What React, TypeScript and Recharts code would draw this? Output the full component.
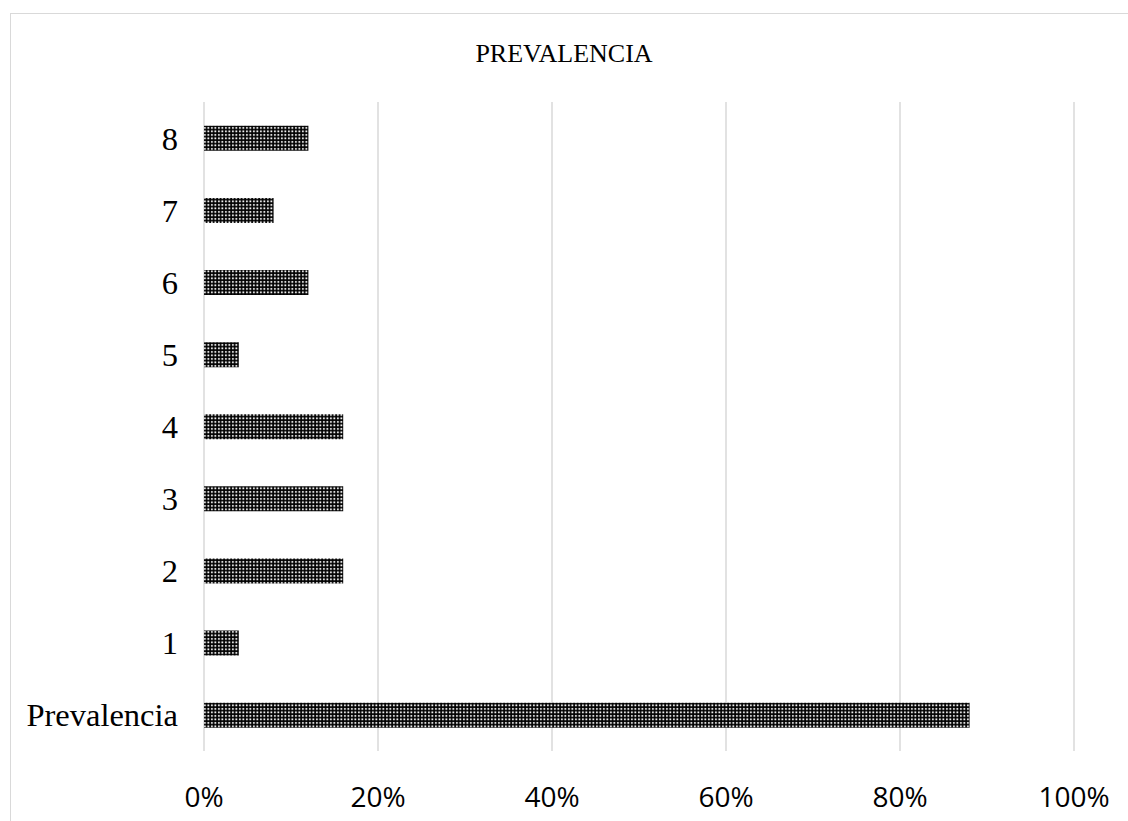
import React from "react"
import { Bar, BarChart, CartesianGrid, XAxis, YAxis } from "recharts"

// categorías de abajo hacia arriba, como en el original
const categories = ["Prevalencia", "1", "2", "3", "4", "5", "6", "7", "8"]
const prevalencia = [0.88, 0.04, 0.16, 0.16, 0.16, 0.04, 0.12, 0.08, 0.12]
const xTicks = [0, 0.2, 0.4, 0.6, 0.8, 1]

const data = categories
    .map((name, i) => ({ name, value: prevalencia[i] }))
    .reverse()

const serif = "'Liberation Serif', 'Times New Roman', serif"
const sans = "'Open Sans', 'Liberation Sans', sans-serif"

export default function App() {
    return (
        <div
            style={{
                position: "absolute",
                left: 0,
                top: 0,
                width: 1128,
                height: 821,
                overflow: "hidden",
                background: "#fff",
            }}
        >
            {/* Patrón de puntos del relleno */}
            <svg width={0} height={0} style={{ position: "absolute" }}>
                <defs>
                    <pattern id="dots" width={3.5} height={3.5} patternUnits="userSpaceOnUse">
                        <rect width={3.5} height={3.5} fill="#000" />
                        <rect x={1} y={1} width={1.8} height={1.8} fill="#fff" />
                    </pattern>
                </defs>
            </svg>

            {/* Borde del área del gráfico */}
            <div
                style={{
                    position: "absolute",
                    left: 10,
                    top: 13,
                    width: 1300,
                    height: 1000,
                    border: "1px solid #d9d9d9",
                }}
            />

            <div
                style={{
                    position: "absolute",
                    left: 0,
                    top: 39,
                    width: 1128,
                    textAlign: "center",
                    fontFamily: serif,
                    fontSize: 26,
                    color: "#000",
                }}
            >
                PREVALENCIA
            </div>

            <div style={{ position: "absolute", left: 0, top: 0 }}>
                <BarChart
                    width={1128}
                    height={821}
                    data={data}
                    layout="vertical"
                    margin={{ top: 102, right: 54, bottom: 0, left: 24 }}
                    barCategoryGap="33%"
                >
                    <CartesianGrid horizontal={false} stroke="#d9d9d9" strokeWidth={1.5} />
                    <XAxis
                        type="number"
                        domain={[0, 1]}
                        ticks={xTicks}
                        tickFormatter={(v: number) => `${Math.round(v * 100)}%`}
                        axisLine={false}
                        tickLine={false}
                        tickMargin={30}
                        height={70}
                        tick={{ fill: "#000", fontSize: 28, fontFamily: sans }}
                    />
                    <YAxis
                        type="category"
                        dataKey="name"
                        width={180}
                        axisLine={false}
                        tickLine={false}
                        tickMargin={20}
                        tick={{ fill: "#000", fontSize: 32.5, fontFamily: serif }}
                    />
                    <Bar dataKey="value" fill="url(#dots)" isAnimationActive={false} />
                </BarChart>
            </div>
        </div>
    )
}
